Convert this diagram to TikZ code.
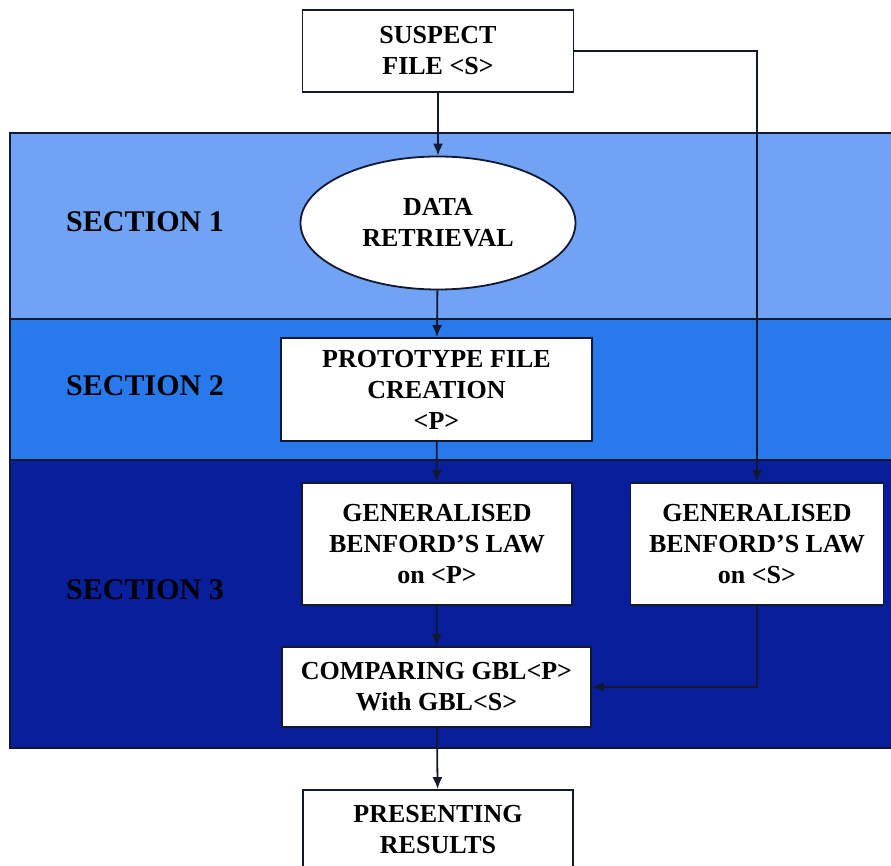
\documentclass[tikz,border=0pt]{standalone}
\usepackage{fontspec}
\setmainfont{Liberation Serif}
\usetikzlibrary{positioning, arrows.meta, shapes.geometric}

\definecolor{secone}{RGB}{112,163,243}
\definecolor{sectwo}{RGB}{40,122,236}
\definecolor{secthree}{RGB}{8,30,155}
\definecolor{linecol}{RGB}{18,24,48}

\begin{document}
\begin{tikzpicture}[
    x=0.5pt, y=-0.5pt,
    % Clean styles
    band/.style={
        draw=linecol,
        line width=1pt
    },
    stepbox/.style={
        rectangle,
        draw=linecol,
        line width=0.9pt,
        fill=white,
        inner sep=0pt,
        font=\fontsize{13}{15.5}\selectfont\bfseries,
        align=center
    },
    roundbox/.style={
        stepbox,
        ellipse
    },
    seclabel/.style={
        font=\fontsize{15}{18}\selectfont\bfseries,
        text=black
    },
    arrow/.style={
        -{Latex[length=6pt, width=5pt]},
        line width=0.9pt,
        linecol
    }
]
\useasboundingbox (0,0) rectangle (891,866);

% === Section bands ===
\draw[band, fill=secone] (10,133) rectangle (905,319);
\draw[band, fill=sectwo] (10,319) rectangle (905,460);
\draw[band, fill=secthree] (10,460) rectangle (905,748);

\node[seclabel] (lab1) at (145,222) {SECTION 1};
\node[seclabel] (lab2) at (145,386) {SECTION 2};
\node[seclabel] (lab3) at (145,590) {SECTION 3};

% === Top: suspect file ===
\node[stepbox, minimum width=135.5pt, minimum height=41pt] (suspect) at (438,51)
    {SUSPECT\\FILE <S>};

% === Section 1 ===
\node[roundbox, minimum width=137.5pt, minimum height=66.5pt] (retrieval) at (438,223)
    {DATA\\RETRIEVAL};

% === Section 2 ===
\node[stepbox, minimum width=155.5pt, minimum height=51.5pt] (proto) at (436.5,389.5)
    {PROTOTYPE FILE\\CREATION\\<P>};

% === Section 3 ===
\node[stepbox, minimum width=135pt, minimum height=61pt] (gblp) at (437,544)
    {GENERALISED\\BENFORD'S LAW\\on <P>};
\node[stepbox, minimum width=126.5pt, minimum height=61pt] (gbls) at (757,544)
    {GENERALISED\\BENFORD'S LAW\\on <S>};
\node[stepbox, minimum width=154.5pt, minimum height=40pt] (compare) at (436.5,687)
    {COMPARING GBL<P>\\With GBL<S>};

% === Bottom: results ===
\node[stepbox, minimum width=135pt, minimum height=40pt] (results) at (438,830)
    {PRESENTING\\RESULTS};

% === Arrows ===
\draw[arrow] (suspect) -- (retrieval);
\draw[arrow] (retrieval) -- (proto);
\draw[arrow] (proto) -- (gblp);
\draw[arrow] (gblp) -- (compare);
\draw[arrow] (compare) -- (results);
\draw[arrow] (suspect.east) -| (gbls.north);
\draw[arrow] (gbls.south) |- (compare.east);

\end{tikzpicture}
\end{document}
